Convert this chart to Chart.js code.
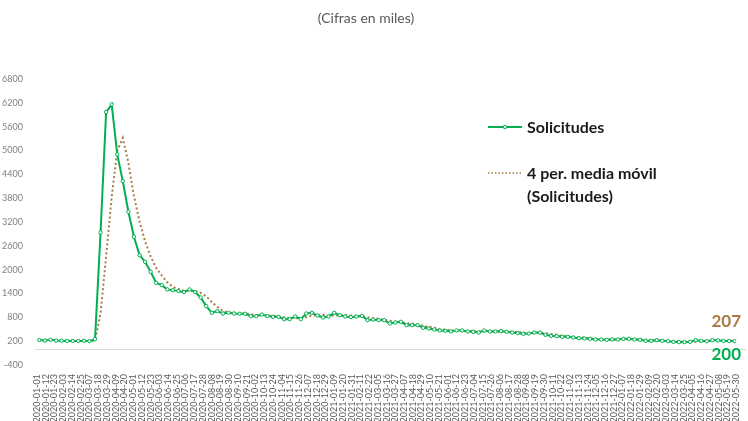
<!DOCTYPE html>
<html>
<head>
<meta charset="utf-8">
<script src="https://cdn.jsdelivr.net/npm/chart.js@4"></script>
<style>
  html, body { margin: 0; padding: 0; background: #fff; overflow: hidden; }
  #wrap { position: relative; width: 748px; height: 421px; }
</style>
</head>
<body>
<div id="wrap"><canvas id="claimsChart" width="748" height="421"></canvas></div>
<script>
const titleText = '(Cifras en miles)';
const seriesName = 'Solicitudes';
const trendName = ['4 per. media móvil', '(Solicitudes)'];

// weekly observations, first week ends 2020-01-04
const firstWeek = '2020-01-04';
const solicitudes = [
  230, 215, 235, 215, 210, 205, 205, 205, 210, 200, 250,
  2939, 5968, 6162, 4903, 4230, 3457, 2828, 2366, 2198, 1946,
  1669, 1611, 1502, 1485, 1460, 1434, 1502, 1434, 1300, 1082,
  914, 956, 897, 914, 897, 889, 889, 830, 830, 872,
  830, 813, 813, 754, 754, 822, 754, 897, 914, 845,
  797, 822, 914, 855, 822, 805, 822, 838, 729, 746,
  729, 729, 645, 671, 687, 603, 603, 603, 536, 519,
  494, 469, 460, 445, 469, 469, 444, 435, 418, 469,
  444, 444, 452, 435, 418, 402, 385, 393, 418, 418,
  360, 334, 326, 309, 309, 292, 276, 267, 259, 242,
  242, 234, 242, 242, 259, 259, 242, 234, 208, 208,
  225, 208, 200, 183, 175, 175, 183, 225, 208, 200,
  225, 220, 205, 203, 200
];
const maPeriod = 4;

// axis: date axis, a label every 11 days
const axisStart = '2020-01-01';
const axisEnd = '2022-05-30';
const xTickStepDays = 11;
const yMin = -400;
const yMax = 6800;
const yStep = 600;

const GREEN = '#00b050';
const BROWN = '#a87b42';
const DAY = 86400000;

const t0 = Date.parse(axisStart + 'T00:00:00Z');
const dayOf = (iso) => Math.round((Date.parse(iso + 'T00:00:00Z') - t0) / DAY);
const fmtDay = (d) => new Date(t0 + d * DAY).toISOString().slice(0, 10);

const week0 = dayOf(firstWeek);
const claimPoints = solicitudes.map((v, i) => ({ x: week0 + 7 * i, y: v }));
const maPoints = [];
for (let i = maPeriod - 1; i < solicitudes.length; i++) {
  const win = solicitudes.slice(i - maPeriod + 1, i + 1);
  maPoints.push({ x: claimPoints[i].x, y: win.reduce((a, b) => a + b, 0) / maPeriod });
}

const decor = {
  id: 'decor',
  beforeDatasetsDraw(chart) {
    const { ctx, chartArea, scales } = chart;
    const y0 = scales.y.getPixelForValue(0);
    ctx.save();
    ctx.strokeStyle = '#d9d9d9';
    ctx.lineWidth = 1;
    ctx.beginPath();
    ctx.moveTo(chartArea.left - 2, Math.round(y0) + 0.5);
    ctx.lineTo(chartArea.right + 10, Math.round(y0) + 0.5);
    ctx.stroke();
    ctx.restore();
  },
  afterDraw(chart) {
    const { ctx } = chart;
    ctx.save();
    // title
    ctx.fillStyle = '#595959';
    ctx.font = '14px Lato';
    ctx.textAlign = 'center';
    ctx.textBaseline = 'middle';
    ctx.fillText(titleText, 366, 18);

    // legend
    ctx.textAlign = 'left';
    ctx.font = 'bold 16px Lato';
    ctx.strokeStyle = GREEN;
    ctx.lineWidth = 2;
    ctx.beginPath();
    ctx.moveTo(488, 127);
    ctx.lineTo(522, 127);
    ctx.stroke();
    ctx.beginPath();
    ctx.arc(505, 127, 1.8, 0, Math.PI * 2);
    ctx.fillStyle = '#fff';
    ctx.fill();
    ctx.lineWidth = 1;
    ctx.stroke();
    ctx.fillStyle = '#1a1a1a';
    ctx.fillText(seriesName, 527, 128);

    ctx.strokeStyle = BROWN;
    ctx.lineWidth = 1.5;
    ctx.setLineDash([1.5, 2]);
    ctx.beginPath();
    ctx.moveTo(488, 173);
    ctx.lineTo(522, 173);
    ctx.stroke();
    ctx.setLineDash([]);
    ctx.fillText(trendName[0], 527, 174);
    ctx.fillText(trendName[1], 527, 197);

    // end labels
    const lastClaim = claimPoints[claimPoints.length - 1];
    const lastMa = maPoints[maPoints.length - 1];
    ctx.font = 'bold 17px Lato';
    ctx.textAlign = 'right';
    ctx.fillStyle = BROWN;
    ctx.fillText(String(Math.round(lastMa.y)), 741, 322);
    ctx.fillStyle = GREEN;
    ctx.fillText(String(lastClaim.y), 741, 355);
    ctx.restore();
  }
};

new Chart(document.getElementById('claimsChart'), {
  type: 'line',
  data: {
    datasets: [
      {
        label: seriesName,
        data: claimPoints,
        borderColor: GREEN,
        borderWidth: 2,
        pointRadius: 1.7,
        pointBorderWidth: 1,
        pointBackgroundColor: '#fff',
        pointBorderColor: GREEN,
        tension: 0,
        order: 1,
      },
      {
        label: trendName.join(' '),
        data: maPoints,
        borderColor: BROWN,
        borderWidth: 2,
        borderDash: [2, 2.5],
        pointRadius: 0,
        tension: 0,
        order: 2,
      },
    ],
  },
  options: {
    responsive: false,
    animation: false,
    layout: { padding: { top: 79, right: 10, left: 0, bottom: 0 } },
    plugins: {
      legend: { display: false },
      tooltip: { enabled: false },
    },
    scales: {
      x: {
        type: 'linear',
        min: dayOf(axisStart),
        max: dayOf(axisEnd),
        grid: { display: false },
        border: { display: false },
        afterFit(scale) { scale.height = 56; },
        ticks: {
          stepSize: xTickStepDays,
          autoSkip: false,
          minRotation: 90,
          maxRotation: 90,
          padding: 1,
          color: '#595959',
          font: { family: 'Lato', size: 9 },
          callback(value) { return fmtDay(value); },
        },
      },
      y: {
        min: yMin,
        max: yMax,
        grid: { display: false },
        border: { display: false },
        afterFit(scale) { scale.width = 37; },
        ticks: {
          stepSize: yStep,
          padding: 6,
          color: '#808080',
          font: { family: 'Lato', size: 9 },
          callback(value) { return String(value); },
        },
      },
    },
  },
  plugins: [decor],
});
</script>
</body>
</html>
